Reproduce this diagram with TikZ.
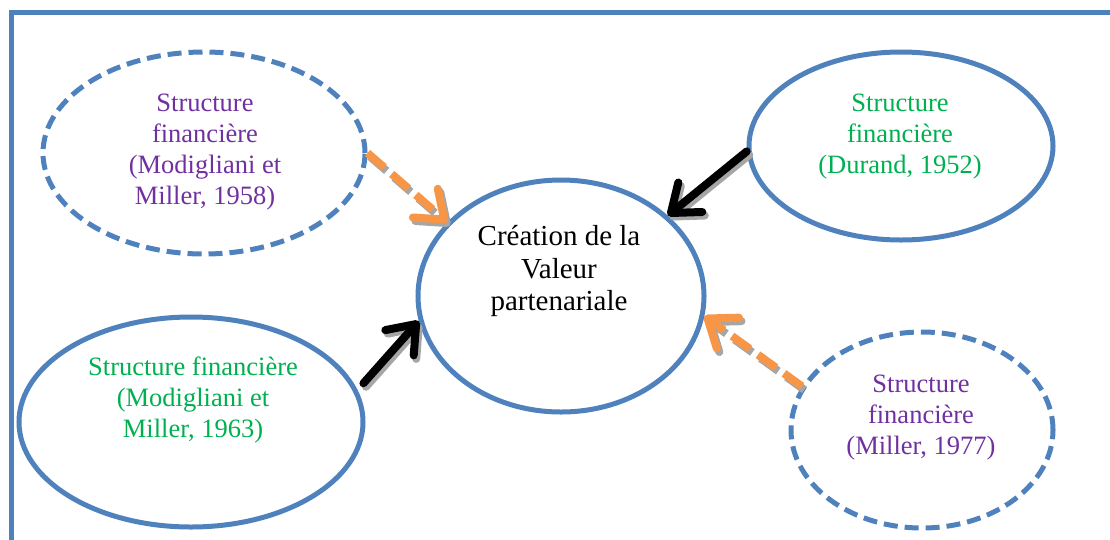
\documentclass[tikz,border=0pt]{standalone}
\usepackage{fontspec}
\setmainfont{Liberation Serif}
\usetikzlibrary{shapes.geometric,arrows.meta}
\definecolor{wblue}{HTML}{4F81BD}
\definecolor{wpurple}{HTML}{7030A0}
\definecolor{wgreen}{HTML}{00B050}
\definecolor{worange}{HTML}{F79646}
\definecolor{wshade}{HTML}{A6A6A6}
\begin{document}
\begin{tikzpicture}[x=1pt,y=-1pt,
  oval/.style={ellipse, draw=wblue, line width=5pt, inner sep=0pt},
  dashedoval/.style={oval, dash pattern=on 14pt off 7pt},
  lbl/.style={align=center, font=\fontsize{26.5pt}{31pt}\selectfont},
  mainlbl/.style={align=center, font=\fontsize{29pt}{32.5pt}\selectfont},
  blackarrow/.style={draw=black, line width=8pt, line cap=round,
    -{Straight Barb[length=25pt,width=38pt,round]}},
  orangearrow/.style={draw=worange, line width=8pt, dash pattern=on 22pt off 10pt,
    -{Straight Barb[length=25pt,width=38pt,round]}},
  shadowcopy/.style={draw=wshade, transform canvas={shift={(2.5pt,-3.5pt)}}}
]
\useasboundingbox (0,0) rectangle (1110,539);
% frame
\draw[wblue, line width=5pt] (11,545) -- (11,12) -- (1115,12);

% ellipses
\node[dashedoval, minimum width=322pt, minimum height=202pt] (e1) at (204,153) {};
\node[oval, minimum width=286pt, minimum height=232pt] (c) at (561,296) {};
\node[oval, minimum width=304pt, minimum height=188pt] (e2) at (901,146) {};
\node[oval, minimum width=344pt, minimum height=210pt] (e3) at (191,422) {};
\node[dashedoval, minimum width=262pt, minimum height=196pt] (e4) at (922,430) {};

% texts
\node[lbl, text=wpurple] (t1) at (205,152) {Structure\\financière\\(Modigliani et\\Miller, 1958)};
\node[lbl, text=wgreen] (t2) at (900,137) {Structure\\financière\\(Durand, 1952)};
\node[lbl, text=wgreen] (t3) at (193,400) {Structure financière\\(Modigliani et\\Miller, 1963)};
\node[lbl, text=wpurple] (t4) at (921,418) {Structure\\financière\\(Miller, 1977)};
\node[mainlbl] (tc) at (559,271) {Création de la\\Valeur\\partenariale};

% shadows
\draw[orangearrow, shadowcopy] (e1.east) -- (c.147);
\draw[blackarrow, shadowcopy] (e2.182) -- (c.37);
\draw[blackarrow, shadowcopy] ([shift={(9pt,1pt)}]e3.13) -- (c.190);
\draw[orangearrow, shadowcopy] (e4.160) -- (c.352);
% connectors
\draw[orangearrow] (e1.east) -- (c.147);
\draw[blackarrow] (e2.182) -- (c.37);
\draw[blackarrow] ([shift={(9pt,1pt)}]e3.13) -- (c.190);
\draw[orangearrow] (e4.160) -- (c.352);
\end{tikzpicture}
\end{document}
